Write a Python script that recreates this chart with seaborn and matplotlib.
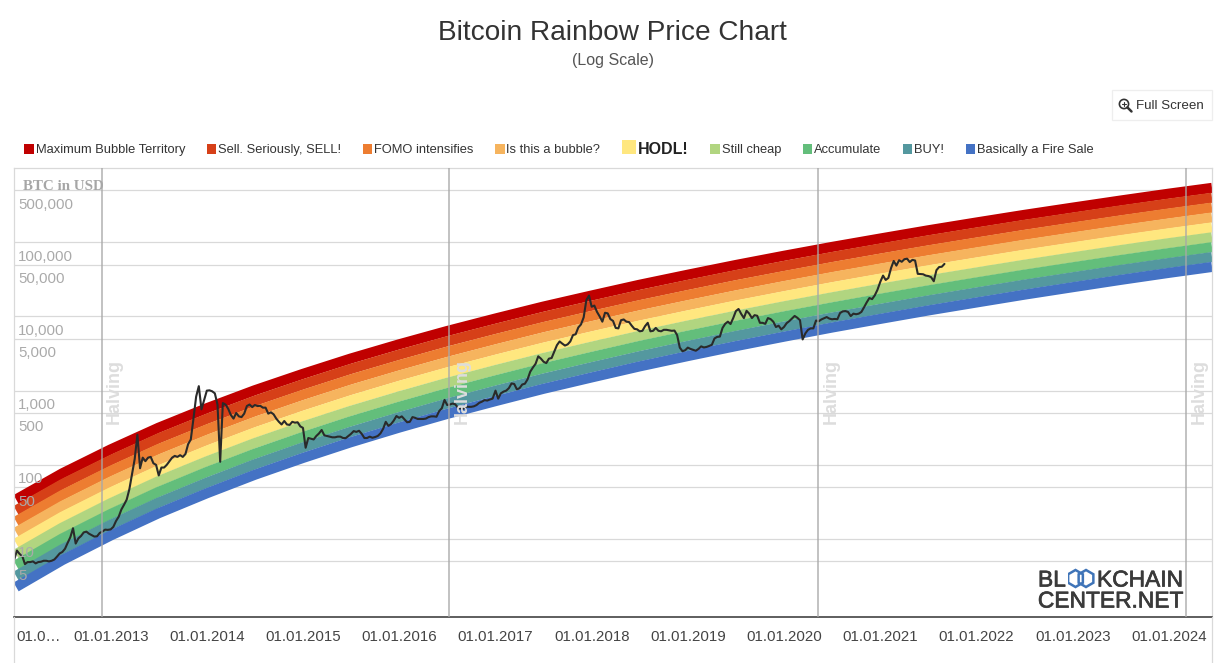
"""Bitcoin rainbow price chart, log scale, with halving markers."""
import numpy as np
import pandas as pd
import matplotlib
matplotlib.use("Agg")
import matplotlib.dates as mdates
import matplotlib.patheffects as pe
import matplotlib.pyplot as plt
from matplotlib.lines import Line2D
from matplotlib.patches import Circle, Rectangle, RegularPolygon
from matplotlib.transforms import ScaledTranslation
import seaborn as sns

W, H = 1220, 663

band_dates = ["2012-01-08", "2012-07-01", "2013-01-01", "2013-07-01", "2014-01-01", "2014-07-01", "2015-01-01",
              "2015-07-01", "2016-01-01", "2016-07-01", "2017-01-01", "2017-07-01", "2018-01-01", "2018-07-01",
              "2019-01-01", "2019-07-01", "2020-01-01", "2020-07-01", "2021-01-01", "2021-07-01", "2022-01-01",
              "2022-07-01", "2023-01-01", "2023-07-01", "2024-01-01", "2024-06-13"]

# log10 of the USD price at the centre of each band
band_maximum = [1.534, 1.885, 2.208, 2.499, 2.763, 3.004, 3.226, 3.432, 3.624, 3.803, 3.972, 4.132, 4.282, 4.426, 4.562, 4.692, 4.817, 4.936, 5.050, 5.160, 5.266, 5.368, 5.466, 5.561, 5.654, 5.732]
band_sell = [1.386, 1.739, 2.063, 2.355, 2.619, 2.861, 3.084, 3.291, 3.483, 3.664, 3.833, 3.993, 4.144, 4.288, 4.425, 4.556, 4.680, 4.800, 4.915, 5.025, 5.131, 5.234, 5.332, 5.428, 5.520, 5.599]
band_fomo = [1.239, 1.592, 1.918, 2.211, 2.476, 2.719, 2.943, 3.150, 3.343, 3.524, 3.694, 3.855, 4.006, 4.151, 4.288, 4.419, 4.544, 4.664, 4.779, 4.890, 4.996, 5.099, 5.198, 5.294, 5.387, 5.466]
band_bubble = [1.091, 1.446, 1.773, 2.067, 2.333, 2.576, 2.801, 3.009, 3.203, 3.384, 3.555, 3.716, 3.868, 4.013, 4.151, 4.282, 4.408, 4.529, 4.644, 4.755, 4.862, 4.965, 5.064, 5.160, 5.253, 5.333]
band_hodl = [0.944, 1.300, 1.628, 1.923, 2.190, 2.434, 2.659, 2.868, 3.063, 3.245, 3.416, 3.578, 3.730, 3.876, 4.014, 4.146, 4.272, 4.393, 4.509, 4.620, 4.727, 4.831, 4.930, 5.027, 5.120, 5.199]
band_cheap = [0.797, 1.154, 1.483, 1.779, 2.047, 2.292, 2.518, 2.727, 2.922, 3.105, 3.277, 3.439, 3.592, 3.738, 3.877, 4.009, 4.136, 4.257, 4.373, 4.485, 4.592, 4.696, 4.796, 4.893, 4.987, 5.066]
band_accumulate = [0.649, 1.008, 1.338, 1.635, 1.904, 2.149, 2.376, 2.586, 2.782, 2.965, 3.138, 3.301, 3.454, 3.601, 3.740, 3.872, 4.000, 4.121, 4.238, 4.350, 4.458, 4.562, 4.662, 4.759, 4.853, 4.933]
band_buy = [0.502, 0.862, 1.193, 1.491, 1.760, 2.007, 2.235, 2.445, 2.642, 2.826, 2.999, 3.162, 3.316, 3.463, 3.603, 3.736, 3.863, 3.985, 4.102, 4.215, 4.323, 4.428, 4.528, 4.626, 4.720, 4.800]
band_fire = [0.355, 0.716, 1.048, 1.347, 1.617, 1.865, 2.093, 2.304, 2.502, 2.686, 2.859, 3.024, 3.178, 3.326, 3.466, 3.599, 3.727, 3.850, 3.967, 4.080, 4.188, 4.293, 4.394, 4.492, 4.587, 4.667]

bands = [band_maximum, band_sell, band_fomo, band_bubble, band_hodl, band_cheap, band_accumulate, band_buy, band_fire]
band_labels = ["Maximum Bubble Territory", "Sell. Seriously, SELL!", "FOMO intensifies", "Is this a bubble?",
               "HODL!", "Still cheap", "Accumulate", "BUY!", "Basically a Fire Sale"]
band_colors = ["#c00000", "#d64018", "#ed7d31", "#f6b45e", "#ffe77f", "#b1d580", "#63be7b", "#54989f", "#4472c4"]

# BTC price, about every ten days of each year
btc_2012 = [5.3, 7.0, 6.3, 5.9, 4.6, 4.9, 4.9, 5.0, 4.7, 4.9, 4.95, 5.1, 5.1, 5.0, 5.1, 5.3, 5.8, 6.4,
            6.7, 7.4, 8.9, 10.6, 14.0, 8.7, 10.2, 11.0, 12.3, 12.6, 11.8, 11.3, 10.8, 10.9, 12.1, 12.6, 13.4, 13.3]
btc_2013 = [13.5, 14.6, 17.5, 20, 25, 29, 34, 47, 75, 120, 255, 90, 125, 112, 125, 128, 105, 100,
            72, 92, 92, 100, 112, 125, 132, 128, 135, 128, 140, 190, 220, 420, 830, 1150, 560, 750]
btc_2014 = [1000, 1010, 980, 920, 650, 110, 680, 650, 570, 470, 420, 500, 450, 440, 490, 620, 650, 600,
            640, 620, 625, 590, 590, 490, 510, 480, 420, 380, 350, 390, 350, 345, 380, 370, 375, 330]
btc_2015 = [315, 170, 230, 225, 220, 245, 265, 295, 250, 245, 240, 235, 235, 240, 240, 230, 229, 245,
            262, 285, 278, 288, 262, 230, 230, 240, 232, 237, 245, 265, 305, 380, 335, 355, 395, 455]
btc_2016 = [430, 450, 410, 375, 380, 440, 430, 415, 415, 415, 420, 440, 450, 450, 445, 530, 580, 750,
            640, 650, 670, 655, 590, 575, 570, 610, 605, 605, 615, 640, 685, 710, 745, 735, 760, 780]
btc_2017 = [1000, 780, 920, 970, 1000, 1080, 1250, 1230, 1040, 1080, 1210, 1240, 1420, 1800, 2050, 2300, 2900, 2700,
            2450, 2350, 2700, 2750, 3350, 4100, 4600, 4300, 4050, 4200, 4600, 5600, 5750, 7100, 7800, 9700, 16500, 19100]
btc_2018 = [13500, 14000, 11500, 10000, 8500, 11200, 11000, 9200, 8700, 7000, 6900, 8900, 9100, 8500, 8400, 7500, 6800, 6700,
            6300, 6400, 7400, 8200, 6300, 6400, 7000, 6400, 6300, 6600, 6600, 6500, 6400, 6450, 5600, 3800, 3400, 3500]
btc_2019 = [3800, 3650, 3550, 3450, 3650, 3950, 3820, 3880, 4000, 4150, 5050, 5300, 5350, 7000, 7950, 8500, 7900, 9500,
            11800, 12600, 10800, 9500, 11900, 10900, 9500, 10400, 10200, 8200, 8200, 7950, 9500, 9200, 8500, 7200, 7500, 6700]
btc_2020 = [7200, 8100, 8650, 9350, 10150, 9600, 8900, 4900, 5900, 6600, 6900, 6900, 8800, 8600, 9100, 9450, 9800, 9350,
            9150, 9250, 9170, 11100, 11700, 11800, 11500, 10100, 10900, 10700, 10900, 11500, 13300, 15500, 17700, 17100, 19200, 22800]
btc_2021 = [29400, 35500, 31000, 33000, 44800, 55900, 48400, 57200, 54500, 59000, 60000, 54000, 57800, 56700, 37500, 37300, 37000, 35500,
            35000, 33800, 29800, 42000, 46300, 46700, 51000]
btc_years = {2012: btc_2012, 2013: btc_2013, 2014: btc_2014, 2015: btc_2015, 2016: btc_2016,
             2017: btc_2017, 2018: btc_2018, 2019: btc_2019, 2020: btc_2020, 2021: btc_2021}

halving_dates = ["2012-11-28", "2016-07-09", "2020-05-11", "2024-03-07"]

y_ticks = [500000, 100000, 50000, 10000, 5000, 1000, 500, 100, 50, 10, 5]
x_tick_years = list(range(2012, 2025))

sns.set_theme(style="white")
plt.rcParams["font.family"] = ["Liberation Sans", "DejaVu Sans"]


def fx(px):
    return px / W


def fy(px):
    return 1 - px / H


fig = plt.figure(figsize=(W / 100, H / 100), dpi=100, facecolor="white")
ax = fig.add_axes([fx(14), fy(617), fx(1212) - fx(14), fy(168) - fy(617)])
ax.set_yscale("log")

for v in y_ticks:
    ax.axhline(v, color="#d9d9d9", lw=0.9, zorder=0)

band_x = pd.to_datetime(band_dates)
for values, color in zip(bands, band_colors):
    df = pd.DataFrame({"date": band_x, "price": 10 ** np.array(values)})
    sns.lineplot(data=df, x="date", y="price", ax=ax, color=color, linewidth=7.3, estimator=None,
                 solid_capstyle="butt", zorder=2)

# one frame per year so the samples stay next to their year
frames = []
for year, prices in btc_years.items():
    start = pd.Timestamp(f"{year}-01-01")
    frames.append(pd.DataFrame({
        "date": [start + pd.Timedelta(days=i * 365 / 36) for i in range(len(prices))],
        "price": prices,
    }))
btc = pd.concat(frames)
sns.lineplot(data=btc, x="date", y="price", ax=ax, color="#2a2a2a", linewidth=1.5, estimator=None, zorder=2.2)

for d in halving_dates:
    d = pd.Timestamp(d)
    ax.axvline(d, color="#a8a8a8", lw=1.4, alpha=0.7, zorder=2.7)
    ax.annotate("Halving", xy=(mdates.date2num(d), 0.502), xycoords=ax.get_xaxis_transform(), xytext=(9.2, 0),
                textcoords="offset points", rotation=90, ha="center", va="center", fontsize=13,
                fontweight="bold", color="#dddddd", zorder=2.8)

ax.set_xlim(pd.Timestamp("2011-12-31"), pd.Timestamp("2024-06-13"))
ax.set_ylim(0.891, 1e6)
ax.set_axisbelow(False)
ax.set_xlabel("")
ax.set_ylabel("BTC in USD", rotation=0, ha="left", va="center", family="Liberation Serif",
              fontweight="bold", fontsize=10.8, color="#a6a6a6")
ax.yaxis.set_label_coords(9 / 1198, 1 - 19 / 449)

ax.set_yticks(y_ticks, [f"{v:,}" for v in y_ticks])
ax.minorticks_off()
ax.tick_params(axis="y", length=0, pad=0, labelsize=10.8, labelcolor="#aaaaaa")
down = ScaledTranslation(3 / 72, -9.3 / 72, fig.dpi_scale_trans)
for label in ax.get_yticklabels():
    label.set_ha("left")
    label.set_transform(label.get_transform() + down)

x_ticks = [pd.Timestamp(f"{y}-01-01") for y in x_tick_years]
x_labels = [f"01.01.{y}" for y in x_tick_years]
x_labels[0] = "01.0…"
ax.set_xticks(x_ticks, x_labels)
ax.tick_params(axis="x", length=0, pad=9.5, labelsize=10.8, labelcolor="#444444")
first = ax.get_xticklabels()[0]
first.set_ha("left")
first.set_transform(first.get_transform() + ScaledTranslation(1.3 / 72, 0, fig.dpi_scale_trans))

for side in ["top", "left", "right"]:
    ax.spines[side].set_color("#d9d9d9")
    ax.spines[side].set_linewidth(0.9)
ax.spines["bottom"].set_color("#333333")
ax.spines["bottom"].set_linewidth(1.1)

# frame runs on below the axis down to the picture edge
for px in [13.5, 1212]:
    fig.add_artist(Line2D([fx(px), fx(px)], [fy(617), 0], color="#d9d9d9", lw=0.9))

fig.text(fx(612.5), fy(33), "Bitcoin Rainbow Price Chart", ha="center", va="center", fontsize=20.2, color="#333333")
fig.text(fx(612.5), fy(61), "(Log Scale)", ha="center", va="center", fontsize=11.5, color="#555555")

# legend row, spaced from the text widths
renderer = fig.canvas.get_renderer()
cursor = 24
for label, color in zip(band_labels, band_colors):
    hodl = label == "HODL!"
    size = 14 if hodl else 9.5
    top = 140 if hodl else 144
    fig.add_artist(Rectangle((fx(cursor), fy(top + (14 if hodl else 10))), size / W, (14 if hodl else 10) / H,
                             facecolor=color, edgecolor="none", transform=fig.transFigure))
    cursor += size + 2
    t = fig.text(fx(cursor), fy(150), label, ha="left", va="center", fontsize=11.5 if hodl else 9.3,
                 fontweight="bold" if hodl else "normal", color="#222222" if hodl else "#333333")
    cursor += t.get_window_extent(renderer).width + 21.5

# full screen button
fig.add_artist(Rectangle((fx(1112), fy(120)), 100 / W, 30 / H, facecolor="none", edgecolor="#eeeeee",
                         lw=0.9, transform=fig.transFigure))
fig.text(fx(1136), fy(106), "Full Screen", ha="left", va="center", fontsize=9.6, color="#333333")
icon = fig.add_axes([fx(1117), fy(113), 16 / W, 16 / H])
icon.set_xlim(0, 16)
icon.set_ylim(16, 0)
icon.axis("off")
icon.add_patch(Circle((7, 7), 4.6, fill=False, edgecolor="#333333", lw=1.2))
icon.plot([10.4, 14.5], [10.4, 14.5], color="#333333", lw=1.8)
icon.plot([4.8, 9.2], [7, 7], color="#333333", lw=0.8)
icon.plot([7, 7], [4.8, 9.2], color="#333333", lw=0.8)

# logo
for x_px, y_px, ha, word in [(1038, 580, "left", "BL"), (1183, 580, "right", "KCHAIN"), (1183, 601, "right", "CENTER.NET")]:
    fig.text(fx(x_px), fy(y_px), word, ha=ha, va="center", fontsize=16.4, color="#3a3a3a",
             path_effects=[pe.withStroke(linewidth=0.5, foreground="#3a3a3a")])
logo = fig.add_axes([fx(1067.5), fy(590), 30 / W, 22 / H])
logo.set_xlim(0, 30)
logo.set_ylim(22, 0)
logo.axis("off")
for cx in [8, 18.5]:
    logo.add_patch(RegularPolygon((cx, 10.5), 6, radius=8.5, fill=False, edgecolor="#3f74b8", lw=1.8))

fig.savefig("out.png", dpi=100, facecolor="white")
